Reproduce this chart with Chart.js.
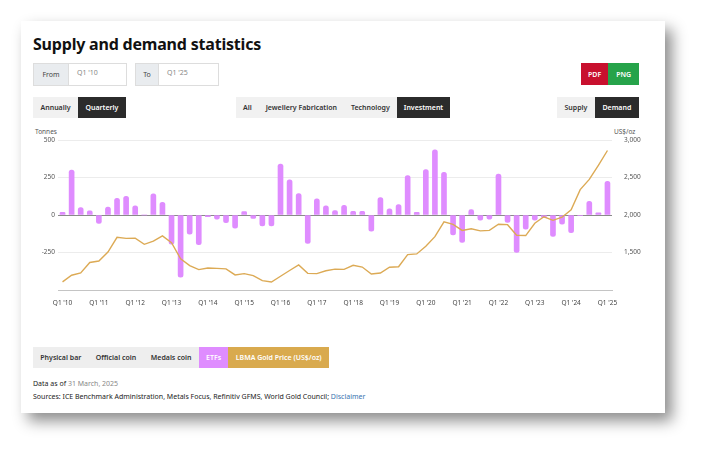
<!DOCTYPE html>
<html>
<head>
<meta charset="utf-8">
<script src="https://cdn.jsdelivr.net/npm/chart.js@4"></script>
<style>
    body { margin: 0; background: #fff; font-family: 'Noto Sans', sans-serif; width: 708px; height: 456px; position: relative; overflow: hidden; }
    .card { position: absolute; left: 21px; top: 21px; width: 644px; height: 392px; background: #fff; box-shadow: 7px 8px 14px rgba(0, 0, 0, 0.45); }
    h1 { position: absolute; left: 33px; top: 33px; margin: 0; font-size: 16px; font-weight: 700; color: #111; letter-spacing: -0.2px; }
    .field { position: absolute; top: 63px; height: 21px; border: 1px solid #ddd; background: #fff; font-size: 7px; }
    .field .lbl { position: absolute; left: 0; top: 0; bottom: 0; background: #e9ecef; border-right: 1px solid #ddd; color: #444; display: flex; align-items: center; justify-content: center; }
    .field .val { position: absolute; top: 4px; color: #888; }
    .btns { position: absolute; display: flex; height: 21px; font-size: 7px; font-weight: 600; }
    .btns div { display: flex; align-items: center; padding: 0 7.5px; background: #f1f1f1; color: #333; }
    .btns.mid div { padding: 0 7px; }
    .btns div.on { background: #2b2b2b; color: #fff; }
    .btns div.pdf { background: #c8102e; color: #fff; }
    .btns div.png { background: #26a34a; color: #fff; }
    .axtitle { position: absolute; font-size: 6.5px; color: #555; }
    .legend { position: absolute; left: 33px; top: 347px; height: 21px; display: flex; font-size: 7px; font-weight: 600; background: #eee; }
    .legend div { display: flex; align-items: center; padding: 0 7.3px; color: #333; }
    .note { position: absolute; left: 33px; font-size: 7px; color: #222; }
    .note span.g { color: #888; }
    .note span.l { color: #3a75b0; }
    #chartBox { position: absolute; left: 30px; top: 128px; width: 615px; height: 182px; }
</style>
</head>
<body>
<div class="card"></div>
<h1>Supply and demand statistics</h1>

<div class="field" style="left:33px; width:92px;">
    <div class="lbl" style="width:34px;">From</div>
    <div class="val" style="left:43px;">Q1 '10</div>
</div>
<div class="field" style="left:135px; width:82px;">
    <div class="lbl" style="width:22px;">To</div>
    <div class="val" style="left:31px;">Q1 '25</div>
</div>
<div class="btns" style="left:581px; top:63px; height:22px;">
    <div class="pdf" style="padding:0 7px;">PDF</div>
    <div class="png" style="padding:0 8px;">PNG</div>
</div>

<div class="btns" style="left:33px; top:97px;">
    <div>Annually</div>
    <div class="on">Quarterly</div>
</div>
<div class="btns mid" style="left:236px; top:97px;">
    <div>All</div>
    <div>Jewellery Fabrication</div>
    <div>Technology</div>
    <div class="on">Investment</div>
</div>
<div class="btns" style="left:557px; top:97px;">
    <div>Supply</div>
    <div class="on">Demand</div>
</div>

<div class="axtitle" style="left:35px; top:127px;">Tonnes</div>
<div class="axtitle" style="left:614px; top:127px;">US$/oz</div>
<div id="chartBox"><canvas id="chart"></canvas></div>

<div class="legend">
    <div>Physical bar</div>
    <div>Official coin</div>
    <div>Medals coin</div>
    <div style="background:#df8cff; color:#fff;">ETFs</div>
    <div style="background:#d9aa4e; color:#fff;">LBMA Gold Price (US$/oz)</div>
</div>
<div class="note" style="top:379px;">Data as of <span class="g">31 March, 2025</span></div>
<div class="note" style="top:392px;">Sources: ICE Benchmark Administration, Metals Focus, Refinitiv GFMS, World Gold Council; <span class="l">Disclaimer</span></div>

<script>
// Quarters Q1 '10 .. Q1 '25
const years = ['10', '11', '12', '13', '14', '15', '16', '17', '18', '19', '20', '21', '22', '23', '24', '25'];
const quarters = [];
years.forEach(function (y) {
    for (let q = 1; q <= 4; q++) {
        if (y === '25' && q > 1) break;
        quarters.push('Q' + q + " '" + y);
    }
});

// ETF demand, tonnes
const etfTonnes = [
    18, 300, 50, 27,
    -56, 52, 111, 125,
    61, 0, 141, 84,
    -195, -415, -127, -197,
    -11, -27, -51, -88,
    22, -22, -72, -72,
    340, 234, 142, -190,
    107, 61, 30, 64,
    24, 24, -107, 116,
    41, 70, 263, 18,
    302, 434, 284, -132,
    -182, 36, -34, -27,
    272, -50, -250, -95,
    -34, -16, -143, -61,
    -118, -5, 91, 14,
    225
];

// LBMA gold price, quarterly average, US$/oz
const goldPrice = [
    1109, 1197, 1227, 1367,
    1386, 1506, 1702, 1688,
    1691, 1609, 1652, 1722,
    1632, 1415, 1326, 1272,
    1293, 1288, 1282, 1201,
    1218, 1192, 1124, 1106,
    1183, 1260, 1335, 1222,
    1219, 1257, 1278, 1275,
    1329, 1306, 1213, 1226,
    1304, 1310, 1472, 1481,
    1583, 1711, 1909, 1874,
    1794, 1816, 1789, 1795,
    1877, 1871, 1729, 1726,
    1890, 1976, 1929, 1971,
    2070, 2338, 2474, 2663,
    2860
];

const tickFont = { family: 'Noto Sans', size: 6.5 };

new Chart(document.getElementById('chart'), {
    data: {
        labels: quarters,
        datasets: [
            {
                type: 'line',
                label: 'LBMA Gold Price (US$/oz)',
                data: goldPrice,
                yAxisID: 'price',
                borderColor: '#dcaa55',
                borderWidth: 1.4,
                pointRadius: 0,
                tension: 0,
                order: 0
            },
            {
                type: 'bar',
                label: 'ETFs',
                data: etfTonnes,
                yAxisID: 'tonnes',
                backgroundColor: '#df8cff',
                barThickness: 5,
                borderRadius: 2.5,
                borderSkipped: 'start',
                order: 1
            }
        ]
    },
    options: {
        responsive: true,
        maintainAspectRatio: false,
        animation: false,
        layout: { padding: { top: 12, left: 0, right: 0, bottom: 0 } },
        plugins: {
            legend: { display: false },
            tooltip: { enabled: false }
        },
        scales: {
            x: {
                offset: true,
                grid: { display: false },
                border: { display: true, color: '#c4c4c4', width: 1 },
                afterFit: function (scale) { scale.height = 20; },
                ticks: {
                    autoSkip: false,
                    maxRotation: 0,
                    padding: 1,
                    color: '#444',
                    font: tickFont,
                    callback: function (value, index) {
                        return index % 4 === 0 ? quarters[index] : '';
                    }
                }
            },
            tonnes: {
                position: 'left',
                min: -500,
                max: 500,
                afterFit: function (scale) { scale.width = 28; },
                border: { display: false },
                grid: {
                    drawTicks: false,
                    color: function (ctx) {
                        if (ctx.tick.value === 0) return '#8a8a8a';
                        if (ctx.tick.value === -500) return '#c4c4c4';
                        return '#ececec';
                    }
                },
                ticks: {
                    stepSize: 250,
                    padding: 3,
                    color: '#555',
                    font: tickFont,
                    callback: function (value) {
                        return value === -500 ? '' : value;
                    }
                }
            },
            price: {
                position: 'right',
                min: 1000,
                max: 3000,
                afterFit: function (scale) { scale.width = 33; },
                border: { display: false },
                grid: { display: false },
                ticks: {
                    stepSize: 500,
                    padding: 4,
                    color: '#555',
                    font: tickFont,
                    callback: function (value) {
                        return value === 1000 ? '' : value.toLocaleString('en-US');
                    }
                }
            }
        }
    }
});
</script>
</body>
</html>
